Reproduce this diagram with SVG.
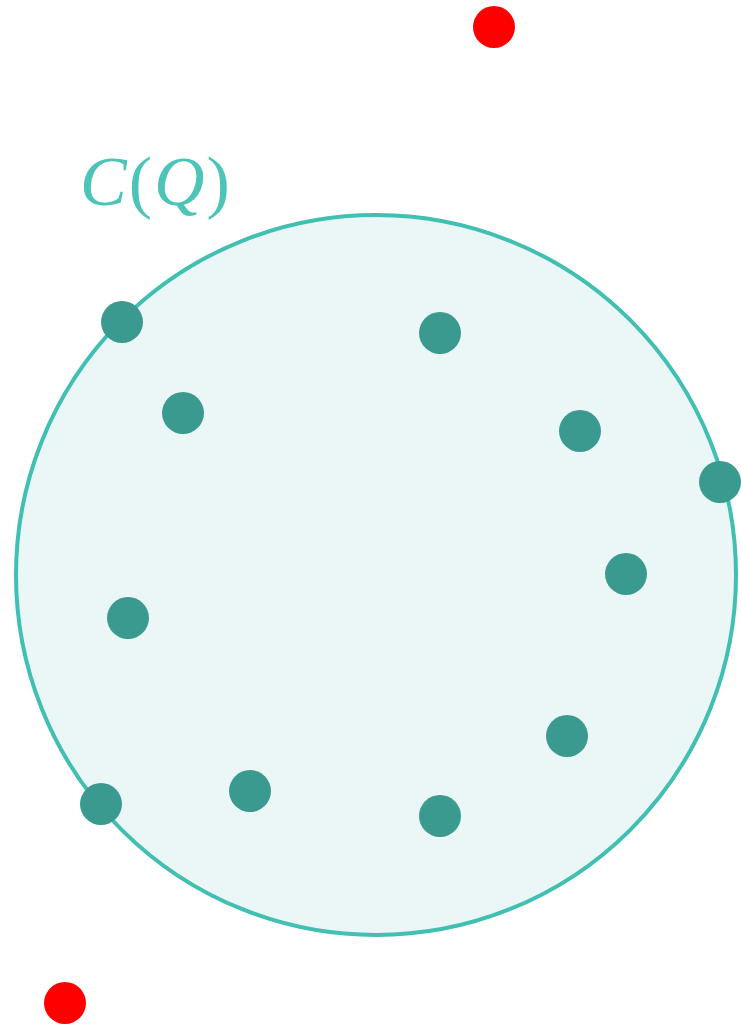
<svg xmlns="http://www.w3.org/2000/svg" width="741" height="1026" viewBox="0 0 741 1026">
<style>
.pt{fill:#3a9a8f}
.out{fill:#ff0000}
.lbl{font-family:"Liberation Serif","DejaVu Serif",serif;font-size:70px;fill:#4cc4b8;letter-spacing:2px}
</style>
<rect width="741" height="1026" fill="#ffffff"/>
<g id="hull">
<circle cx="376" cy="575" r="360" fill="#ebf7f7" stroke="#40bfb2" stroke-width="4"/>
</g>
<g id="label">
<text class="lbl" x="80" y="205"><tspan font-style="italic">C</tspan>(<tspan font-style="italic">Q</tspan>)</text>
</g>
<g id="points">
<circle class="pt" cx="122" cy="322" r="21"/>
<circle class="pt" cx="183" cy="413" r="21"/>
<circle class="pt" cx="440" cy="333" r="21"/>
<circle class="pt" cx="580" cy="431" r="21"/>
<circle class="pt" cx="720" cy="482" r="21"/>
<circle class="pt" cx="626" cy="574" r="21"/>
<circle class="pt" cx="128" cy="618" r="21"/>
<circle class="pt" cx="567" cy="736" r="21"/>
<circle class="pt" cx="101" cy="804" r="21"/>
<circle class="pt" cx="250" cy="791" r="21"/>
<circle class="pt" cx="440" cy="816" r="21"/>
</g>
<g id="outliers">
<circle class="out" cx="494" cy="27" r="21"/>
<circle class="out" cx="65" cy="1003" r="21"/>
</g>
<g id="connectors"></g>
</svg>
